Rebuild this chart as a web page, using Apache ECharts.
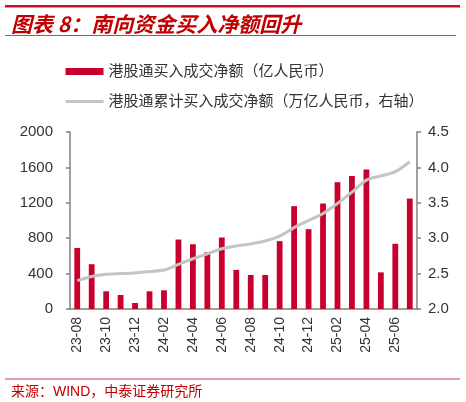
<!DOCTYPE html>
<html><head><meta charset="utf-8">
<script src="https://cdn.jsdelivr.net/npm/echarts@6/dist/echarts.min.js"></script>
<style>html,body{margin:0;padding:0;background:#fff;}#c{width:466px;height:402px;}</style>
</head><body><div id="c"></div>
<script>
const categories = ['23-08','23-09','23-10','23-11','23-12','24-01','24-02','24-03','24-04','24-05','24-06','24-07',
  '24-08','24-09','24-10','24-11','24-12','25-01','25-02','25-03','25-04','25-05','25-06','25-07'];
const netBuy = [690,506,200,158,68,200,211,785,732,642,808,442,384,384,767,1162,902,1192,1433,1504,1575,414,737,1248];
const cumulative = [2.40,2.46,2.49,2.50,2.51,2.53,2.55,2.63,2.71,2.78,2.85,2.89,2.92,2.96,3.03,3.15,3.25,3.35,3.49,3.65,3.82,3.88,3.94,4.08];
const seriesNames = ['港股通买入成交净额（亿人民币）','港股通累计买入成交净额（万亿人民币，右轴）'];
const titleText = '图表 8：南向资金买入净额回升';
const sourceText = '来源：WIND，中泰证券研究所';

const FONT = '"Liberation Sans","Noto Sans CJK SC",sans-serif';
const chart = echarts.init(document.getElementById('c'), null, {renderer:'canvas'});
chart.setOption({
  backgroundColor:'#fff',
  animation:false,
  textStyle:{fontFamily:FONT},
  title:[
    {text:titleText, left:6, top:9, textStyle:{fontSize:21, fontWeight:'bold', fontStyle:'italic', color:'#C00000', fontFamily:'"Noto Sans CJK SC",sans-serif'}},
    {text:sourceText, left:6, top:380, textStyle:{fontSize:14, fontWeight:'normal', color:'#C00000', fontFamily:FONT}}
  ],
  graphic:[
    {type:'rect', shape:{x:5,y:5,width:455,height:2.5}, style:{fill:'#C8102E'}},
    {type:'rect', shape:{x:5,y:35,width:451,height:1}, style:{fill:'#D04050'}},
    {type:'rect', shape:{x:5,y:378.5,width:455,height:1}, style:{fill:'#D04050'}}
  ],
  legend:{
    orient:'vertical', left:59, top:59, itemWidth:38, itemHeight:7, itemGap:15,
    textStyle:{fontSize:15, color:'#333', fontFamily:FONT},
    data:[{name:seriesNames[0], icon:'rect'},{name:seriesNames[1], itemStyle:{opacity:0}, lineStyle:{color:'#C4C4C4', width:3}}]
  },
  grid:{left:70, right:49, top:132, bottom:93},
  xAxis:{
    type:'category', data:categories, boundaryGap:true,
    axisLine:{lineStyle:{color:'#808080', width:1.5}},
    axisTick:{interval:1, length:5, lineStyle:{color:'#808080', width:1.5}},
    axisLabel:{interval:1, rotate:90, fontSize:14, color:'#333', margin:8, fontFamily:FONT}
  },
  yAxis:[
    {type:'value', min:0, max:2000, interval:400,
     axisLine:{show:true, lineStyle:{color:'#808080', width:1.5}},
     axisTick:{show:true, inside:false, length:4, lineStyle:{color:'#808080', width:1.5}},
     splitLine:{show:false},
     axisLabel:{fontSize:15, color:'#333', margin:17, fontFamily:FONT, formatter:v=>String(v)}},
    {type:'value', min:2.0, max:4.5, interval:0.5, position:'right',
     axisLine:{show:true, lineStyle:{color:'#808080', width:1.5}},
     axisTick:{show:true, inside:false, length:4, lineStyle:{color:'#808080', width:1.5}},
     splitLine:{show:false},
     axisLabel:{fontSize:15, color:'#333', margin:11, fontFamily:FONT, formatter:v=>v.toFixed(1)}}
  ],
  series:[
    {name:seriesNames[0], type:'bar', data:netBuy, barWidth:'40%', itemStyle:{color:'#C8002E'}},
    {name:seriesNames[1], type:'line', yAxisIndex:1, data:cumulative, symbol:'none', smooth:0.3,
     lineStyle:{color:'#C4C4C4', width:3}, itemStyle:{color:'#C4C4C4'}}
  ]
});
</script></body></html>
